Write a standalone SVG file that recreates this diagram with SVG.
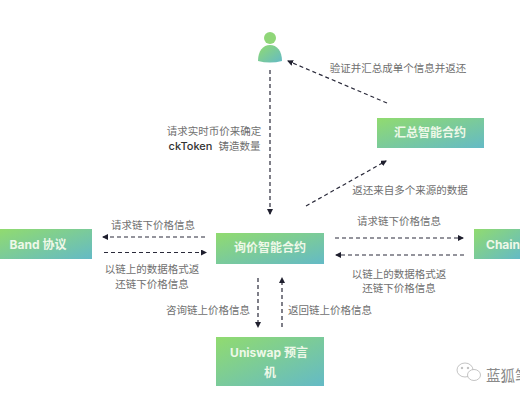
<svg xmlns="http://www.w3.org/2000/svg" width="520" height="400" viewBox="0 0 520 400">
<style>
.box{fill:url(#g)}
.t{font-family:"Noto Sans CJK SC","Liberation Serif",sans-serif;font-size:10.5px;fill:#6f6f6f;text-anchor:middle}
.n{font-family:"Inter","Noto Sans CJK SC",sans-serif;font-size:12px;font-weight:700;fill:#eef8e8;text-anchor:middle}
.c{fill:none;stroke:#2a2a3a;stroke-width:1.2;stroke-dasharray:4 3;marker-end:url(#a)}
</style>
<defs>
<linearGradient id="g" x1="0" y1="0" x2="1" y2="1"><stop offset="0" stop-color="#91db6f"/><stop offset="1" stop-color="#64bac6"/></linearGradient>
<marker id="a" markerWidth="6" markerHeight="6" refX="5" refY="3" orient="auto" markerUnits="userSpaceOnUse"><path d="M0 0L6 3L0 6z" fill="#1f1f2e"/></marker>
</defs>
<rect width="520" height="400" fill="#fff"/>
<g id="connectors">
<path class="c" d="M205 237H103"/>
<path class="c" d="M104 252.500H206"/>
<path class="c" d="M335 238H463"/>
<path class="c" d="M464 255H336"/>
<path class="c" d="M270 70V214"/>
<path class="c" d="M387 103L288 61"/>
<path class="c" d="M306 206L386 161"/>
<path class="c" d="M258 278V327"/>
<path class="c" d="M282 327V278"/>
</g>
<g id="user"><circle cx="270" cy="38" r="6" fill="#8fd678"/><path d="M258 61C258 51 263 45 270 45C277 45 282 51 282 61Q270 64 258 61z" class="box"/></g>
<g id="band"><rect class="box" x="0" y="229" width="92" height="30"/><text class="n" x="38" y="249">Band 协议</text></g>
<g id="query"><rect class="box" x="216" y="233" width="108" height="31"/><text class="n" x="270" y="252">询价智能合约</text></g>
<g id="chain"><rect class="box" x="474" y="229" width="46" height="30"/><text class="n" x="486" y="249" style="text-anchor:start">Chain</text></g>
<g id="agg"><rect class="box" x="377" y="118" width="107" height="30"/><text class="n" x="430" y="137">汇总智能合约</text></g>
<g id="uniswap"><rect class="box" x="216" y="337" width="108" height="49"/><text class="n" x="269" y="357">Uniswap 预言</text><text class="n" x="270" y="377">机</text></g>
<g id="labels">
<text class="t" x="398" y="72">验证并汇总成单个信息并返还</text>
<text class="t" x="214" y="135">请求实时币价来确定</text>
<text class="t" x="214.500" y="150"><tspan style="font-family:Inter,sans-serif;font-size:11px;fill:#333;font-weight:500">ckToken</tspan><tspan dx="6">铸造数量</tspan></text>
<text class="t" x="410" y="194">返还来自多个来源的数据</text>
<text class="t" x="153" y="229">请求链下价格信息</text>
<text class="t" x="152" y="273">以链上的数据格式返</text>
<text class="t" x="152" y="288">还链下价格信息</text>
<text class="t" x="399" y="225">请求链下价格信息</text>
<text class="t" x="399" y="278">以链上的数据格式返</text>
<text class="t" x="399" y="292">还链下价格信息</text>
<text class="t" x="208" y="314">咨询链上价格信息</text>
<text class="t" x="330" y="314">返回链上价格信息</text>
</g>
<g id="watermark" fill="none" stroke="#b5b5b5" stroke-width="0.8"><ellipse cx="465" cy="370" rx="8" ry="7"/><ellipse cx="474" cy="375" rx="6.500" ry="5.500" fill="#fff"/><circle cx="462" cy="368" r="0.800" fill="#b5b5b5"/><circle cx="468" cy="368" r="0.800" fill="#b5b5b5"/><text x="486" y="381" style="font-family:'Noto Sans CJK SC',sans-serif;font-size:14.500px;fill:#8a8a8a;stroke:none">蓝狐笔</text></g>
</svg>
